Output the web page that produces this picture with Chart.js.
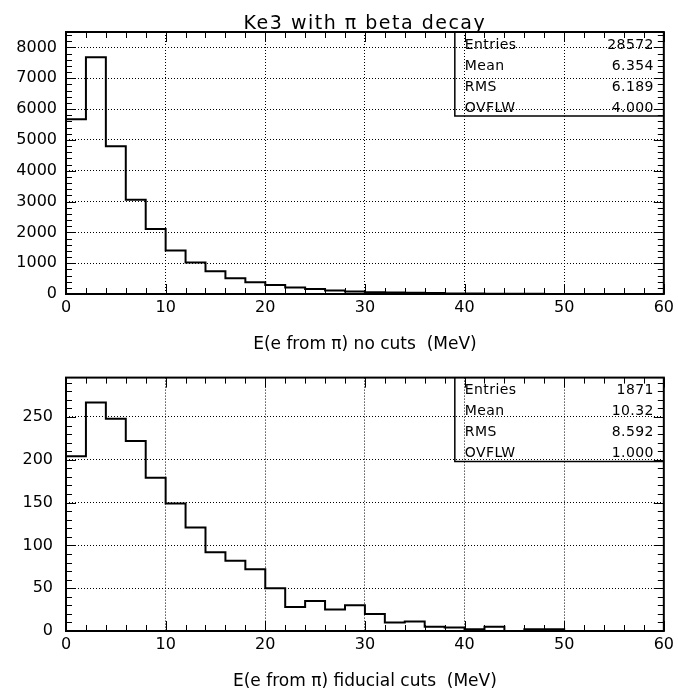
<!DOCTYPE html>
<html>
<head>
<meta charset="utf-8">
<script src="https://cdn.jsdelivr.net/npm/chart.js@4.4.1/dist/chart.umd.min.js"></script>
<style>
  html, body { margin: 0; padding: 0; background: #fff; }
  #wrap { position: relative; width: 678px; height: 694px; }
  canvas { position: absolute; left: 0; }
</style>
</head>
<body>
<div id="wrap">
  <canvas id="c1" width="678" height="355" style="top:0"></canvas>
  <canvas id="c2" width="678" height="339" style="top:355px"></canvas>
</div>
<script>
// bin edges in MeV (2 MeV bins)
const binEdges = [0, 2, 4, 6, 8, 10, 12, 14, 16, 18, 20, 22, 24, 26, 28, 30,
                  32, 34, 36, 38, 40, 42, 44, 46, 48, 50, 52, 54, 56, 58, 60];

// counts per bin
const countsNoCuts = [5670, 7680, 4790, 3060, 2110, 1410, 1020, 740, 510, 380,
                      290, 210, 160, 115, 80, 60, 50, 40, 30, 20,
                      15, 10, 8, 5, 3, 2, 1, 0, 0, 0];
const countsFiducial = [204, 267, 248, 222, 179, 149, 121, 92, 82, 72,
                        50, 28, 35, 25, 30, 20, 10, 11, 5, 4,
                        2, 5, 0, 2, 2, 0, 0, 0, 0, 0];

// tick labels
const xTicks = [0, 10, 20, 30, 40, 50, 60];
const yTicksNoCuts = [0, 1000, 2000, 3000, 4000, 5000, 6000, 7000, 8000];
const yTicksFiducial = [0, 50, 100, 150, 200, 250];

const statsNoCuts = [['Entries', '28572'], ['Mean', '6.354'], ['RMS', '6.189'], ['OVFLW', '4.000']];
const statsFiducial = [['Entries', '1871'], ['Mean', '10.32'], ['RMS', '8.592'], ['OVFLW', '1.000']];

const plotTitle = 'Ke3 with \u03c0 beta decay';
const xTitleNoCuts = 'E(e from \u03c0) no cuts  (MeV)';
const xTitleFiducial = 'E(e from \u03c0) fiducial cuts  (MeV)';

Chart.defaults.font.family = '"DejaVu Sans", sans-serif';
Chart.defaults.color = '#000';

// histogram outline as stepped line through the bin edges
function stepData(counts) {
  return binEdges.map((e, i) => ({ x: e, y: counts[Math.min(i, counts.length - 1)] }));
}

// frame, inner tick marks, stat box and title (PAW style)
const histFrame = {
  id: 'histFrame',
  afterDraw(chart, args, opts) {
    const { ctx, chartArea: a, scales: { x, y } } = chart;
    ctx.save();
    ctx.strokeStyle = '#000';
    ctx.fillStyle = '#000';

    // tick marks on all four sides
    ctx.lineWidth = 1;
    ctx.beginPath();
    for (let v = x.min; v <= x.max; v += opts.xMinor) {
      const px = Math.round(x.getPixelForValue(v)) + 0.5;
      const len = v % opts.xMajor === 0 ? 10 : 6;
      ctx.moveTo(px, a.bottom); ctx.lineTo(px, a.bottom - len);
      ctx.moveTo(px, a.top); ctx.lineTo(px, a.top + len);
    }
    for (let v = 0; v <= y.max; v += opts.yMinor) {
      const py = Math.round(y.getPixelForValue(v)) + 0.5;
      const len = v % opts.yMajor === 0 ? 10 : 6;
      ctx.moveTo(a.left, py); ctx.lineTo(a.left + len, py);
      ctx.moveTo(a.right, py); ctx.lineTo(a.right - len, py);
    }
    ctx.stroke();

    // frame
    ctx.lineWidth = 2;
    ctx.strokeRect(a.left, a.top, a.right - a.left, a.bottom - a.top);

    // stats box
    const bw = 209, rowH = 21.1;
    const bl = a.right - bw, bb = a.top + 84;
    ctx.lineWidth = 1.5;
    ctx.beginPath();
    ctx.moveTo(bl, a.top); ctx.lineTo(bl, bb); ctx.lineTo(a.right, bb);
    ctx.stroke();
    ctx.font = '14px "DejaVu Sans"';
    ctx.letterSpacing = '0.4px';
    ctx.textBaseline = 'alphabetic';
    opts.stats.forEach((row, i) => {
      const by = a.top + 16.5 + i * rowH;
      ctx.textAlign = 'left';
      ctx.fillText(row[0], bl + 10, by);
      ctx.textAlign = 'right';
      ctx.fillText(row[1], a.right - 10, by);
    });

    if (opts.title) {
      ctx.font = '19px "DejaVu Sans"';
      ctx.letterSpacing = '1.5px';
      ctx.textAlign = 'center';
      ctx.fillText(opts.title, (a.left + a.right) / 2, 28.5);
    }
    ctx.restore();
  }
};

function makeHist(canvasId, counts, cfg) {
  return new Chart(document.getElementById(canvasId), {
    type: 'line',
    data: {
      datasets: [{
        data: stepData(counts),
        stepped: 'before',
        borderColor: '#000',
        borderWidth: 2,
        pointRadius: 0,
        fill: false
      }]
    },
    options: {
      responsive: false,
      animation: false,
      devicePixelRatio: 1,
      layout: { padding: { top: cfg.padTop, right: 12, left: 0, bottom: 0 } },
      plugins: {
        legend: { display: false },
        tooltip: { enabled: false },
        histFrame: {
          stats: cfg.stats, title: cfg.title,
          xMinor: 2, xMajor: 10, yMinor: cfg.yMinor, yMajor: cfg.yMajor
        }
      },
      scales: {
        x: {
          type: 'linear', min: 0, max: 60,
          ticks: { padding: 4, font: { size: 16 }, maxRotation: 0, autoSkip: false, callback: v => String(v) },
          afterBuildTicks: s => { s.ticks = xTicks.map(v => ({ value: v })); },
          grid: { color: '#000', lineWidth: 1, drawTicks: false },
          border: { display: false, dash: [1, 2] },
          title: { display: true, text: cfg.xTitle, font: { size: 17 }, padding: { top: 0, bottom: cfg.titlePad } },
          afterFit: s => { s.height = cfg.xHeight; }
        },
        y: {
          type: 'linear', min: 0, max: cfg.yMax,
          ticks: { padding: cfg.yPad, font: { size: 16 }, autoSkip: false, callback: v => String(v) },
          afterBuildTicks: s => { s.ticks = cfg.yTicks.map(v => ({ value: v })); },
          grid: { color: '#000', lineWidth: 1, drawTicks: false },
          border: { display: false, dash: [1, 2] },
          afterFit: s => { s.width = 66; }
        }
      }
    },
    plugins: [histFrame]
  });
}

makeHist('c1', countsNoCuts, {
  padTop: 32, xHeight: 61, titlePad: 0, yMax: 8500, yTicks: yTicksNoCuts, yMajor: 1000, yMinor: 200, yPad: 9,
  stats: statsNoCuts, title: plotTitle, xTitle: xTitleNoCuts
});
makeHist('c2', countsFiducial, {
  padTop: 14, xHeight: 63, titlePad: 2, yMax: 296, yTicks: yTicksFiducial, yMajor: 50, yMinor: 10, yPad: 13,
  stats: statsFiducial, title: null, xTitle: xTitleFiducial
});
</script>
</body>
</html>
